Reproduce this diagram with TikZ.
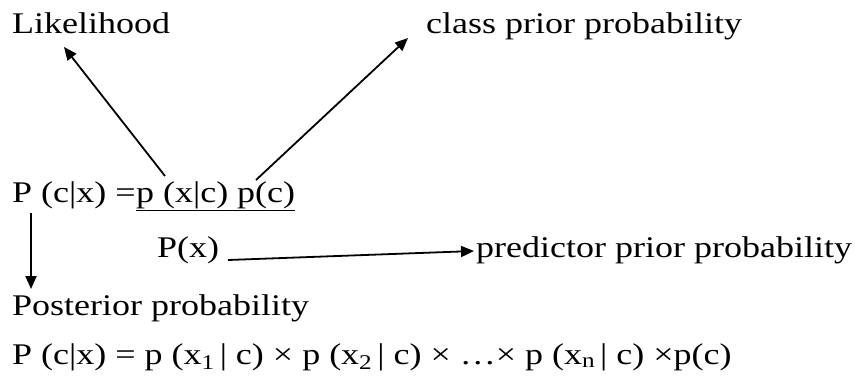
\documentclass[tikz,border=0pt]{standalone}
\usepackage{fontspec}
\setmainfont[FakeStretch=1.2]{Liberation Serif}
\usetikzlibrary{arrows.meta,calc}
\begin{document}
\begin{tikzpicture}[x=1pt,y=-1pt,
  lbl/.style={anchor=base west,inner sep=0pt,font=\fontsize{30}{36}\selectfont},
  arr/.style={line width=1.8pt,-{Triangle[length=13pt,width=11pt]}}]
\useasboundingbox (0,0) rectangle (857,376);
\node[lbl] (lik) at (12,33) {Likelihood};
\node[lbl] (cpp) at (426,33) {class prior probability};
\node[lbl] (lhs) at (12,202) {P (c|x) =};
\node[lbl] (num) at (lhs.base east) {\underline{p (x|c) p(c)}};
\node[lbl] (den) at (157,257) {P(x)};
\node[lbl] (ppp) at (476,257) {predictor prior probability};
\node[lbl] (post) at (12,315) {Posterior probability};
\node[lbl] (naive) at (12,364) {P (c|x) = p (x\textsubscript{1}\,| c) × p (x\textsubscript{2}\,| c) × …× p (x\textsubscript{n}\,| c) ×p(c)};
\coordinate (s1) at (165,176);
\coordinate (t1) at (64,47);
\coordinate (s2) at (256,180);
\coordinate (t2) at (408,38);
\coordinate (s3) at (31,213);
\coordinate (t3) at (31,289);
\coordinate (s4) at (228,260);
\coordinate (t4) at (474,251);
\draw[arr] (s1) -- (t1);
\draw[arr] (s2) -- (t2);
\draw[arr] (s3) -- (t3);
\draw[arr] (s4) -- (t4);
\end{tikzpicture}
\end{document}
